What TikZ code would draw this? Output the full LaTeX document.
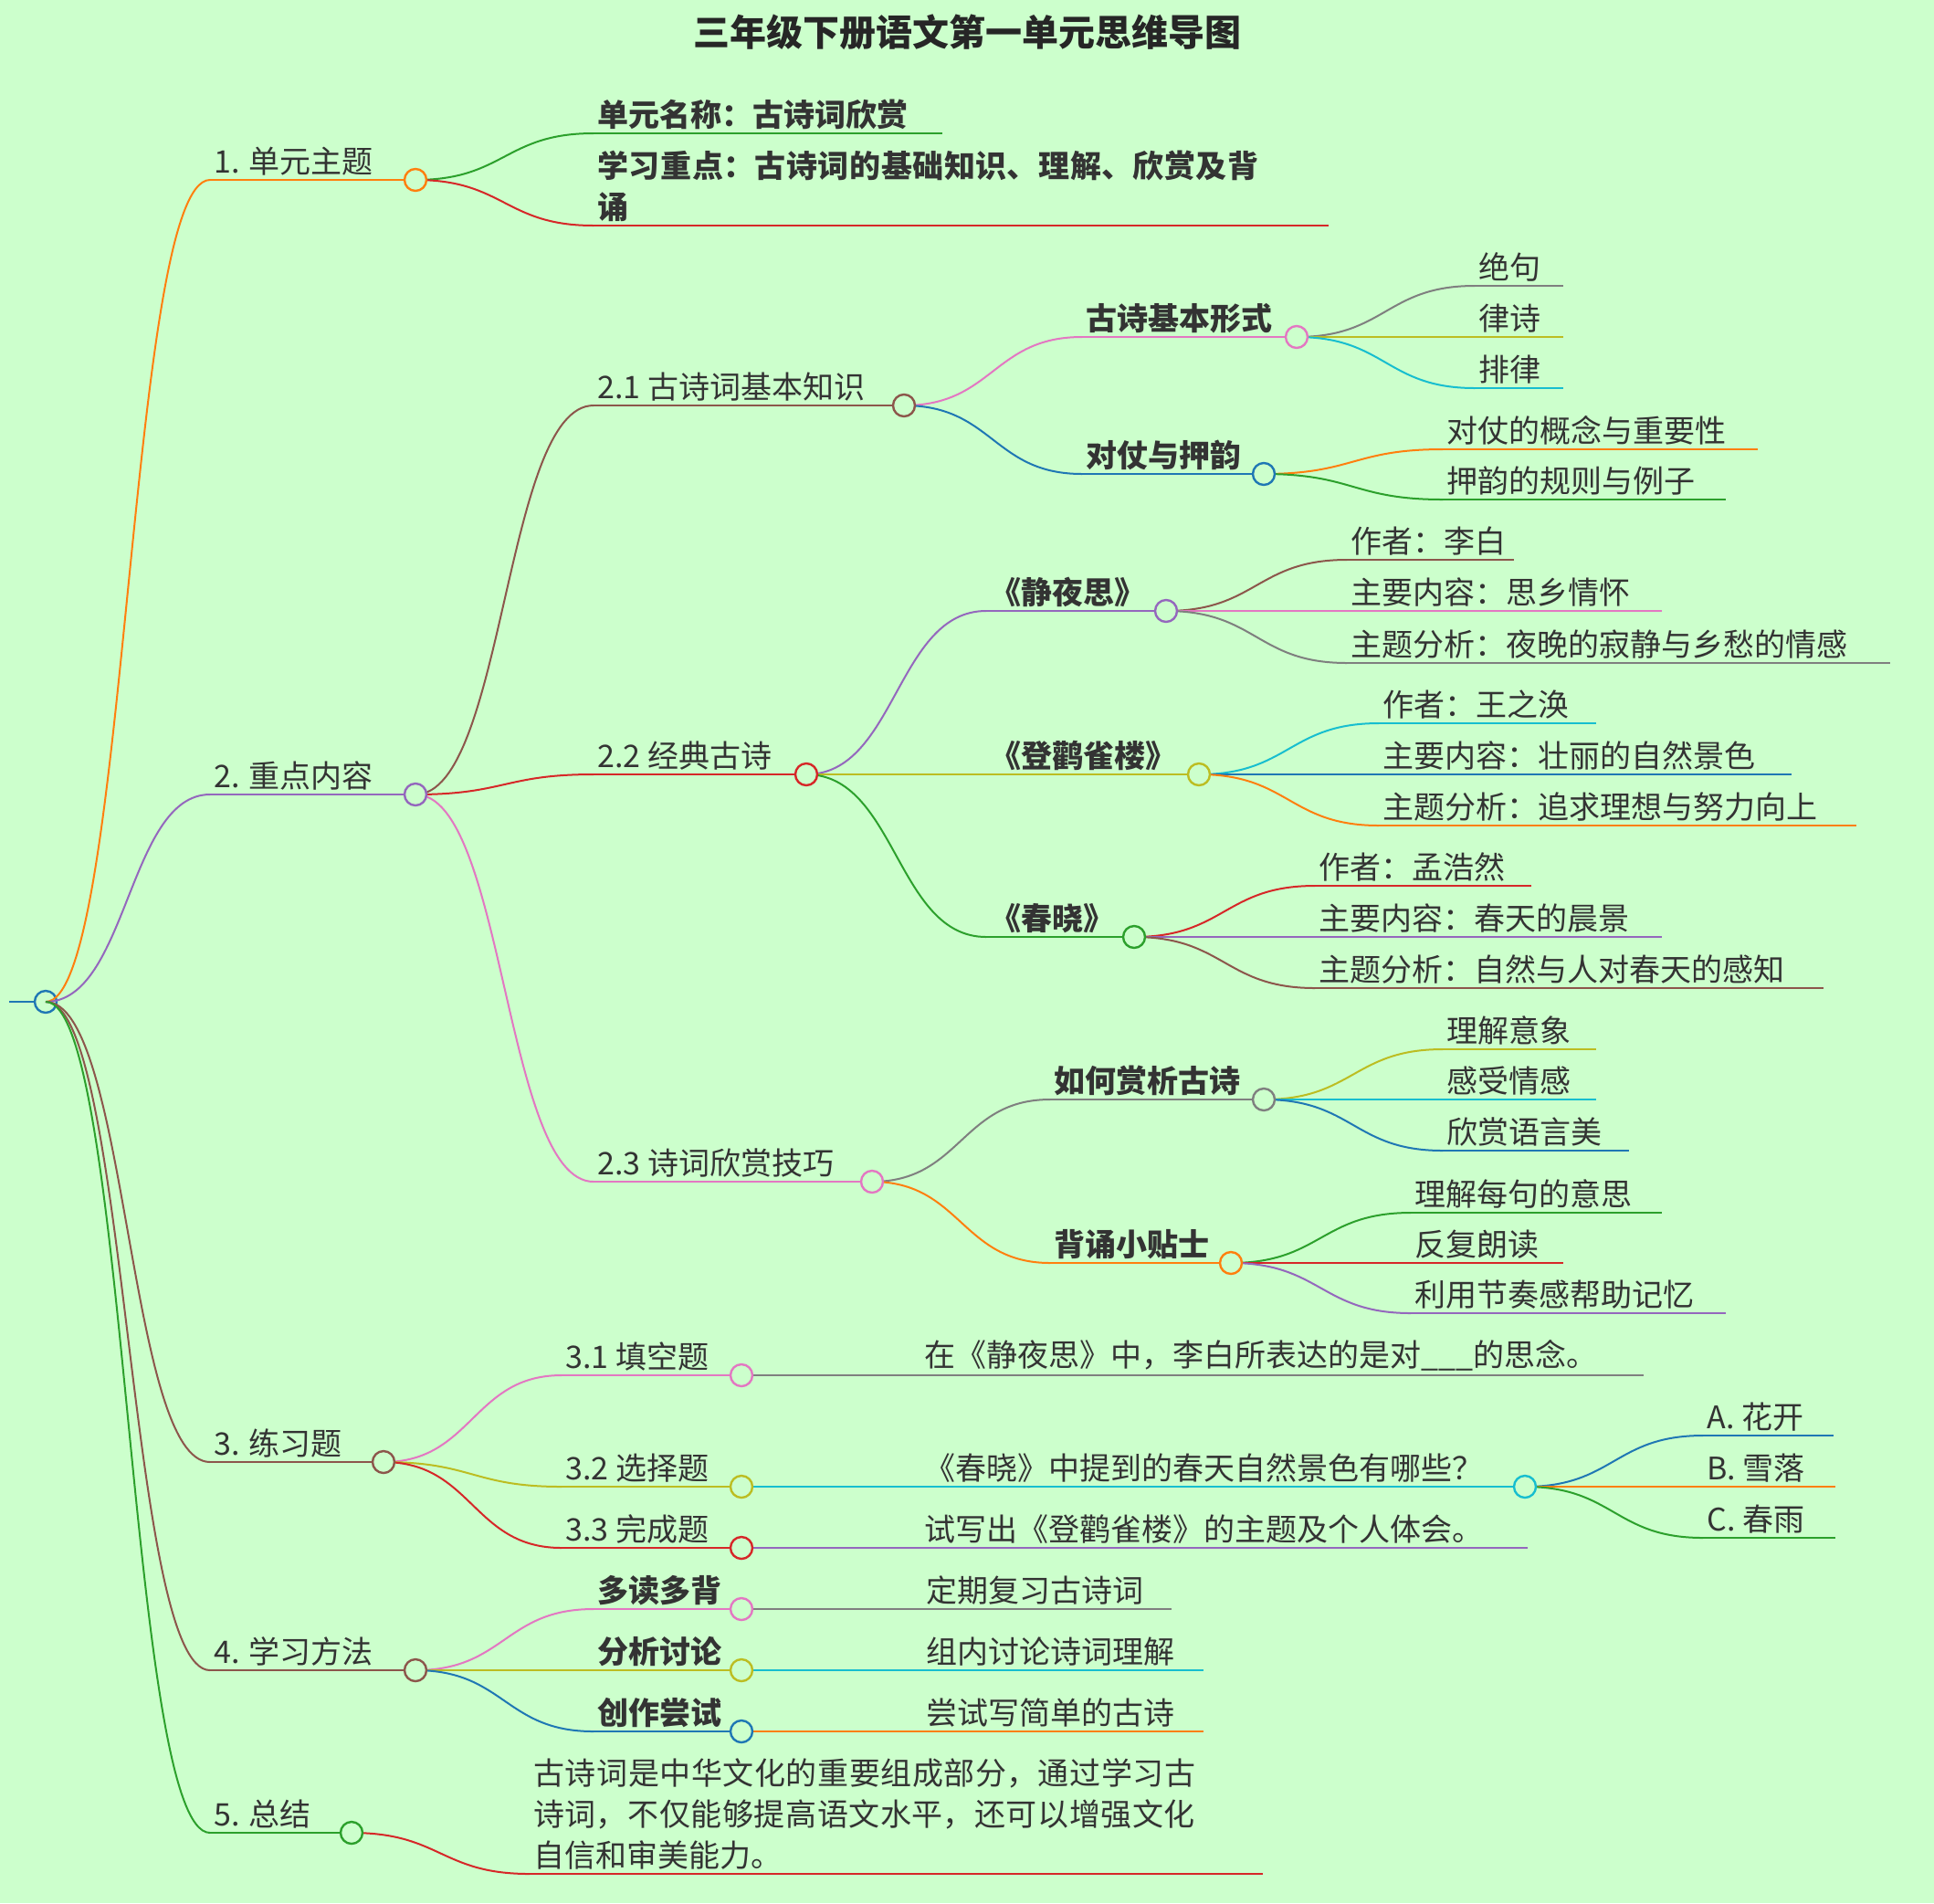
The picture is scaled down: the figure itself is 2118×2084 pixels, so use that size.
\documentclass[tikz,border=0pt]{standalone}
\usepackage{fontspec}
\setmainfont{Noto Sans CJK SC}
\XeTeXlinebreaklocale "zh"
\XeTeXlinebreakskip=0pt plus 1pt
\usetikzlibrary{calc}
\definecolor{bg}{RGB}{204,255,204}
\definecolor{cOrange}{HTML}{FF7F0E}
\definecolor{cPurple}{HTML}{9467BD}
\definecolor{cBrown}{HTML}{8C564B}
\definecolor{cGreen}{HTML}{2CA02C}
\definecolor{cRed}{HTML}{D62728}
\definecolor{cPink}{HTML}{E377C2}
\definecolor{cGray}{HTML}{7F7F7F}
\definecolor{cOlive}{HTML}{BCBD22}
\definecolor{cCyan}{HTML}{17BECF}
\definecolor{cBlue}{HTML}{1F77B4}
% leaf: name, x start, x end, y, colour, style, text
\newcommand{\leaf}[7]{%
  \coordinate (#1-a) at (#2,#4);
  \coordinate (#1-b) at (#3,#4);
  \node[lbl,#6] (#1) at (#1-a) {#7};
  \draw[wire,#5] (#1-a) -- (#1-b);}
% curved link from a hub to a leaf
\newcommand{\link}[3]{%
  \draw[wire,#1] let \p1=(#2.center), \p2=(#3-a) in
    (\p1) .. controls ({(\x1+\x2)/2},\y1) and ({(\x1+\x2)/2},\y2) .. (\p2);}
\newcommand{\hub}[2]{\node[hub,draw=#2] (#1-o) at (#1-b) {};}
\begin{document}
\begin{tikzpicture}[x=0.5pt,y=-0.5pt,
  lbl/.style={anchor=south west, inner sep=2pt, font=\fontsize{17}{22.5}\selectfont, text=black!80},
  bf/.style={font=\fontsize{17}{22.5}\selectfont\bfseries},
  wide/.style={text width=372pt, align=left},
  wire/.style={line width=1pt},
  hub/.style={circle, fill=bg, line width=1.2pt, minimum size=12pt, inner sep=0pt}
]
\fill[bg] (0,0) rectangle (2118,2084);
\node[font=\fontsize{20}{24}\selectfont\bfseries, text=black!85] (title) at (1059,35) {三年级下册语文第一单元思维导图};

% level 1
\coordinate (root-a) at (10,1097);
\coordinate (root-b) at (50,1097);
\draw[wire,cBlue] (root-a) -- (root-b);
\node[hub,draw=cBlue] (root) at (root-b) {};
\leaf{u1}{230}{455}{197}{cOrange}{}{1. 单元主题}
\leaf{u2}{230}{455}{870}{cPurple}{}{2. 重点内容}
\leaf{u3}{230}{420}{1601}{cBrown}{}{3. 练习题}
\leaf{u4}{230}{455}{1829}{cBrown}{}{4. 学习方法}
\leaf{u5}{230}{385}{2007}{cGreen}{}{5. 总结}
\link{cOrange}{root}{u1}
\link{cPurple}{root}{u2}
\link{cBrown}{root}{u3}
\link{cBrown}{root}{u4}
\link{cGreen}{root}{u5}

% 1
\leaf{n11}{650}{1032}{146}{cGreen}{bf}{单元名称：古诗词欣赏}
\leaf{n12}{650}{1455}{247}{cRed}{bf,wide}{学习重点：古诗词的基础知识、理解、欣赏及背诵}
\link{cGreen}{u1-b}{n11}
\link{cRed}{u1-b}{n12}

% 2
\leaf{k1}{650}{990}{444}{cBrown}{}{2.1 古诗词基本知识}
\leaf{k2}{650}{883}{848}{cRed}{}{2.2 经典古诗}
\leaf{k3}{650}{955}{1294}{cPink}{}{2.3 诗词欣赏技巧}
\link{cBrown}{u2-b}{k1}
\link{cRed}{u2-b}{k2}
\link{cPink}{u2-b}{k3}

\leaf{k1a}{1185}{1420}{369}{cPink}{bf}{古诗基本形式}
\leaf{k1b}{1185}{1384}{519}{cBlue}{bf}{对仗与押韵}
\link{cPink}{k1-b}{k1a}
\link{cBlue}{k1-b}{k1b}
\leaf{k1a1}{1615}{1712}{313}{cGray}{}{绝句}
\leaf{k1a2}{1615}{1712}{369}{cOlive}{}{律诗}
\leaf{k1a3}{1615}{1712}{425}{cCyan}{}{排律}
\link{cGray}{k1a-b}{k1a1}
\link{cOlive}{k1a-b}{k1a2}
\link{cCyan}{k1a-b}{k1a3}
\leaf{k1b1}{1580}{1925}{492}{cOrange}{}{对仗的概念与重要性}
\leaf{k1b2}{1580}{1890}{547}{cGreen}{}{押韵的规则与例子}
\link{cOrange}{k1b-b}{k1b1}
\link{cGreen}{k1b-b}{k1b2}

\leaf{k2a}{1080}{1277}{669}{cPurple}{bf}{《静夜思》}
\leaf{k2b}{1080}{1313}{848}{cOlive}{bf}{《登鹳雀楼》}
\leaf{k2c}{1080}{1242}{1026}{cGreen}{bf}{《春晓》}
\link{cPurple}{k2-b}{k2a}
\link{cOlive}{k2-b}{k2b}
\link{cGreen}{k2-b}{k2c}
\leaf{k2a1}{1475}{1658}{613}{cBrown}{}{作者：李白}
\leaf{k2a2}{1475}{1820}{669}{cPink}{}{主要内容：思乡情怀}
\leaf{k2a3}{1475}{2070}{726}{cGray}{}{主题分析：夜晚的寂静与乡愁的情感}
\link{cBrown}{k2a-b}{k2a1}
\link{cPink}{k2a-b}{k2a2}
\link{cGray}{k2a-b}{k2a3}
\leaf{k2b1}{1510}{1748}{792}{cCyan}{}{作者：王之涣}
\leaf{k2b2}{1510}{1962}{848}{cBlue}{}{主要内容：壮丽的自然景色}
\leaf{k2b3}{1510}{2033}{904}{cOrange}{}{主题分析：追求理想与努力向上}
\link{cCyan}{k2b-b}{k2b1}
\link{cBlue}{k2b-b}{k2b2}
\link{cOrange}{k2b-b}{k2b3}
\leaf{k2c1}{1440}{1677}{970}{cRed}{}{作者：孟浩然}
\leaf{k2c2}{1440}{1820}{1026}{cPurple}{}{主要内容：春天的晨景}
\leaf{k2c3}{1440}{1997}{1082}{cBrown}{}{主题分析：自然与人对春天的感知}
\link{cRed}{k2c-b}{k2c1}
\link{cPurple}{k2c-b}{k2c2}
\link{cBrown}{k2c-b}{k2c3}

\leaf{k3a}{1150}{1384}{1204}{cGray}{bf}{如何赏析古诗}
\leaf{k3b}{1150}{1348}{1383}{cOrange}{bf}{背诵小贴士}
\link{cGray}{k3-b}{k3a}
\link{cOrange}{k3-b}{k3b}
\leaf{k3a1}{1580}{1748}{1149}{cOlive}{}{理解意象}
\leaf{k3a2}{1580}{1748}{1204}{cCyan}{}{感受情感}
\leaf{k3a3}{1580}{1784}{1260}{cBlue}{}{欣赏语言美}
\link{cOlive}{k3a-b}{k3a1}
\link{cCyan}{k3a-b}{k3a2}
\link{cBlue}{k3a-b}{k3a3}
\leaf{k3b1}{1545}{1820}{1328}{cGreen}{}{理解每句的意思}
\leaf{k3b2}{1545}{1712}{1383}{cRed}{}{反复朗读}
\leaf{k3b3}{1545}{1890}{1438}{cPurple}{}{利用节奏感帮助记忆}
\link{cGreen}{k3b-b}{k3b1}
\link{cRed}{k3b-b}{k3b2}
\link{cPurple}{k3b-b}{k3b3}

% 3
\leaf{e1}{615}{812}{1506}{cPink}{}{3.1 填空题}
\leaf{e2}{615}{812}{1628}{cOlive}{}{3.2 选择题}
\leaf{e3}{615}{812}{1695}{cRed}{}{3.3 完成题}
\link{cPink}{u3-b}{e1}
\link{cOlive}{u3-b}{e2}
\link{cRed}{u3-b}{e3}
\leaf{e1a}{1008}{1800}{1506}{cGray}{}{在《静夜思》中，李白所表达的是对\_\_\_的思念。}
\leaf{e2a}{1008}{1670}{1628}{cCyan}{}{《春晓》中提到的春天自然景色有哪些？}
\leaf{e3a}{1008}{1673}{1695}{cPurple}{}{试写出《登鹳雀楼》的主题及个人体会。}
\link{cGray}{e1-b}{e1a}
\link{cCyan}{e2-b}{e2a}
\link{cPurple}{e3-b}{e3a}
\leaf{e2a1}{1865}{2008}{1572}{cBlue}{}{A. 花开}
\leaf{e2a2}{1865}{2010}{1628}{cOrange}{}{B. 雪落}
\leaf{e2a3}{1865}{2010}{1684}{cGreen}{}{C. 春雨}
\link{cBlue}{e2a-b}{e2a1}
\link{cOrange}{e2a-b}{e2a2}
\link{cGreen}{e2a-b}{e2a3}

% 4
\leaf{m1}{650}{812}{1762}{cPink}{bf}{多读多背}
\leaf{m2}{650}{812}{1829}{cOlive}{bf}{分析讨论}
\leaf{m3}{650}{812}{1896}{cBlue}{bf}{创作尝试}
\link{cPink}{u4-b}{m1}
\link{cOlive}{u4-b}{m2}
\link{cBlue}{u4-b}{m3}
\leaf{m1a}{1010}{1283}{1762}{cGray}{}{定期复习古诗词}
\leaf{m2a}{1010}{1318}{1829}{cCyan}{}{组内讨论诗词理解}
\leaf{m3a}{1010}{1318}{1896}{cOrange}{}{尝试写简单的古诗}
\link{cGray}{m1-b}{m1a}
\link{cCyan}{m2-b}{m2a}
\link{cOrange}{m3-b}{m3a}

% 5
\leaf{s1}{580}{1383}{2052}{cRed}{wide}{古诗词是中华文化的重要组成部分，通过学习古诗词，不仅能够提高语文水平，还可以增强文化自信和审美能力。}
\link{cRed}{u5-b}{s1}

% hubs on top
\hub{u1}{cOrange} \hub{u2}{cPurple} \hub{u3}{cBrown} \hub{u4}{cBrown} \hub{u5}{cGreen}
\hub{k1}{cBrown} \hub{k2}{cRed} \hub{k3}{cPink}
\hub{k1a}{cPink} \hub{k1b}{cBlue}
\hub{k2a}{cPurple} \hub{k2b}{cOlive} \hub{k2c}{cGreen}
\hub{k3a}{cGray} \hub{k3b}{cOrange}
\hub{e1}{cPink} \hub{e2}{cOlive} \hub{e3}{cRed} \hub{e2a}{cCyan}
\hub{m1}{cPink} \hub{m2}{cOlive} \hub{m3}{cBlue}
\end{tikzpicture}
\end{document}
